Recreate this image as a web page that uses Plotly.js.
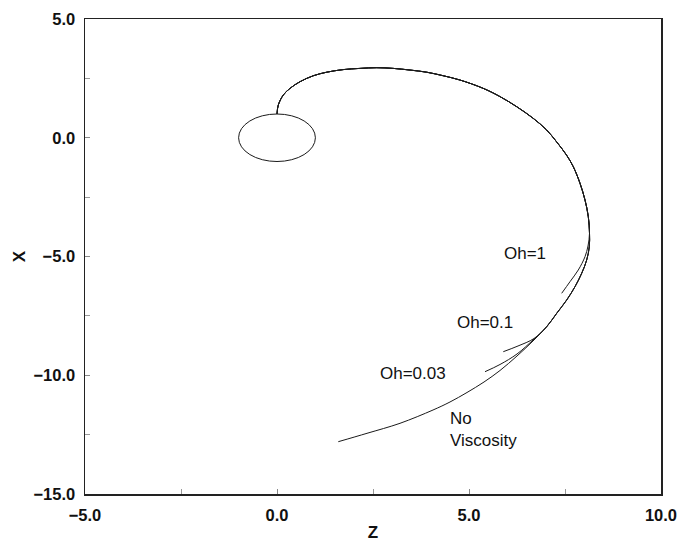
<!DOCTYPE html>
<html>
<head>
<meta charset="utf-8">
<script src="https://cdn.plot.ly/plotly-3.0.1.min.js"></script>
<style>html,body{margin:0;padding:0;background:#fff;}#chart{width:677px;height:542px;}</style>
</head>
<body>
<div id="chart"></div>
<script>
// Shared trunk of the trajectory (z, x)
const trunkZ = [0.0, 0.034, 0.164, 0.339, 0.599, 0.945, 1.294, 1.727, 2.161, 2.596, 3.029, 3.464, 3.898, 4.331, 4.766, 5.37, 5.81, 6.24, 6.67, 7.02, 7.28, 7.54, 7.716, 7.891, 8.021, 8.107, 8.138];
const trunkX = [1.0, 1.38, 1.80, 2.08, 2.36, 2.61, 2.76, 2.87, 2.92, 2.95, 2.92, 2.85, 2.76, 2.61, 2.43, 2.08, 1.73, 1.31, 0.82, 0.33, -0.17, -0.73, -1.219, -1.918, -2.621, -3.324, -4.023];
// Oh=1 branch
const oh1Z = [8.099, 8.021, 7.846, 7.630, 7.414];
const oh1X = [-4.558, -5.008, -5.568, -6.061, -6.549];
// shared section for Oh=0.1, Oh=0.03 and no viscosity
const midZ = [8.133, 8.065, 7.935, 7.760, 7.544, 7.284, 7.023];
const midX = [-4.587, -5.147, -5.707, -6.272, -6.832, -7.392, -7.956];
// Oh=0.1 branch
const oh01Z = [6.693, 6.276, 5.893];
const oh01X = [-8.453, -8.768, -9.008];
// Oh=0.03 branch
const oh003Z = [6.667, 6.25, 5.807, 5.417];
const oh003X = [-8.516, -9.105, -9.547, -9.85];
// no viscosity branch
const novZ = [6.667, 6.25, 5.807, 5.391, 4.948, 4.505, 4.063, 3.203, 2.344, 1.596];
const novX = [-8.558, -9.189, -9.800, -10.284, -10.726, -11.126, -11.463, -12.023, -12.444, -12.798];
// droplet circle
const circleCenter = [0, 0];
const circleRadius = 1;
// labels
const labelText = ["Oh=1", "Oh=0.1", "Oh=0.03", "No<br>Viscosity"];
const labelZ = [6.46, 5.42, 3.54, 4.45];
const labelX = [-4.89, -7.76, -9.93, -12.28];

const FONT = 'Liberation Sans, Arial, Helvetica, sans-serif';
const lineStyle = {color: '#1a1a1a', width: 1, shape: 'spline', smoothing: 1};
function tr(z, x) {
  return {x: z, y: x, mode: 'lines', line: lineStyle, hoverinfo: 'skip', showlegend: false};
}
const data = [
  tr(trunkZ.concat(oh1Z), trunkX.concat(oh1X)),
  tr(trunkZ.concat(midZ, oh01Z), trunkX.concat(midX, oh01X)),
  tr(trunkZ.concat(midZ, oh003Z), trunkX.concat(midX, oh003X)),
  tr(trunkZ.concat(midZ, novZ), trunkX.concat(midX, novX))
];

const annotations = labelText.map((t, i) => ({
  x: labelZ[i], y: labelX[i], xref: 'x', yref: 'y', text: t, showarrow: false,
  xanchor: i === 3 ? 'left' : 'center', align: 'left',
  font: {family: FONT, size: 17, color: '#111'}
}));

const axisCommon = {
  showgrid: false, zeroline: false, showline: true, linecolor: '#222', linewidth: 1.5,
  mirror: true, ticks: 'inside', ticklen: 5, tickwidth: 1, tickcolor: '#888',
  tickformat: '.1f', dtick: 5, ticklabeloverflow: 'allow',
  minor: {dtick: 2.5, ticks: 'inside', ticklen: 5, tickcolor: '#999', showgrid: false},
  tickfont: {family: FONT, size: 16.5, color: '#111', weight: 'bold'}
};

const layout = {
  width: 677, height: 542,
  margin: {l: 85, r: 16, t: 19, b: 48},
  paper_bgcolor: '#fff', plot_bgcolor: '#fff',
  xaxis: Object.assign({}, axisCommon, {
    range: [-5, 10], tick0: -5, ticklabelstandoff: 6,
    title: {text: 'Z', standoff: 8, font: {family: FONT, size: 17, color: '#111', weight: 'bold'}}
  }),
  yaxis: Object.assign({}, axisCommon, {
    range: [-15, 5], tick0: -15, ticklabelstandoff: 5,
    title: {text: 'X', standoff: 3, font: {family: FONT, size: 17, color: '#111', weight: 'bold'}}
  }),
  shapes: [{
    type: 'circle', xref: 'x', yref: 'y',
    x0: circleCenter[0] - circleRadius, x1: circleCenter[0] + circleRadius,
    y0: circleCenter[1] - circleRadius, y1: circleCenter[1] + circleRadius,
    line: {color: '#1a1a1a', width: 1}
  }],
  annotations: annotations,
  showlegend: false
};

Plotly.newPlot('chart', data, layout, {displayModeBar: false, staticPlot: true});
</script>
</body>
</html>
